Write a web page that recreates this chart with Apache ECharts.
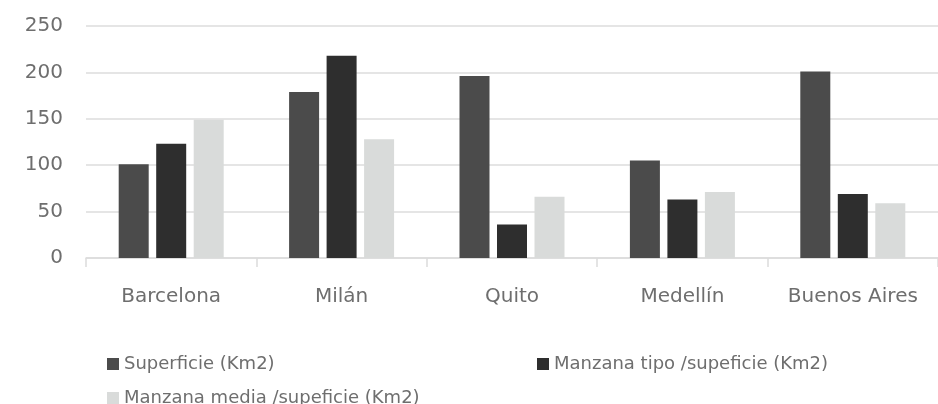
<!DOCTYPE html>
<html>
<head>
<meta charset="utf-8">
<script src="https://cdn.jsdelivr.net/npm/echarts@6/dist/echarts.min.js"></script>
<style>
  html, body { margin: 0; padding: 0; background: #ffffff; }
  #chart { width: 938px; height: 404px; }
</style>
</head>
<body>
<div id="chart"></div>
<script>
// Cities compared
const categories = ['Barcelona', 'Milán', 'Quito', 'Medellín', 'Buenos Aires'];

// Series names
const seriesNames = [
  'Superficie (Km2)',
  'Manzana tipo /supeficie (Km2)',
  'Manzana media /supeficie (Km2)'
];

// Values per city
const superficie = [101, 179, 196, 105, 201];
const manzanaTipo = [123, 218, 36, 63, 69];
const manzanaMedia = [149, 128, 66, 71, 59];

// Y axis ticks
const yTicks = [0, 50, 100, 150, 200, 250];

const FONT = 'DejaVu Sans';
const TEXT_COLOR = '#6e6e6e';
const colors = ['#4b4b4b', '#2e2e2e', '#d9dbda'];

const chart = echarts.init(document.getElementById('chart'), null, { renderer: 'canvas' });

function makeSeries(name, data, color) {
  return {
    name: name,
    type: 'bar',
    data: data,
    barWidth: 30,
    barGap: '25%',
    itemStyle: { color: color },
    animation: false
  };
}

const legendText = { fontFamily: FONT, fontSize: 18, color: TEXT_COLOR };

chart.setOption({
  backgroundColor: '#ffffff',
  animation: false,
  grid: { left: 86, right: 0, top: 26, bottom: 146, containLabel: false },
  xAxis: {
    type: 'category',
    data: categories,
    axisLine: { show: true, lineStyle: { color: '#dcdcdc', width: 1.5 } },
    axisTick: { show: true, length: 9, lineStyle: { color: '#dcdcdc', width: 1.5 } },
    axisLabel: { fontFamily: FONT, fontSize: 20, color: TEXT_COLOR, margin: 29 }
  },
  yAxis: {
    type: 'value',
    min: yTicks[0],
    max: yTicks[yTicks.length - 1],
    interval: 50,
    axisLine: { show: false },
    axisTick: { show: false },
    splitLine: { lineStyle: { color: '#dcdcdc', width: 1.5 } },
    axisLabel: { fontFamily: FONT, fontSize: 20, color: TEXT_COLOR, margin: 23 }
  },
  legend: [
    { data: [seriesNames[0]], left: 102, top: 350, itemWidth: 12, itemHeight: 12, icon: 'rect', textStyle: legendText, itemGap: 0 },
    { data: [seriesNames[1]], left: 532, top: 350, itemWidth: 12, itemHeight: 12, icon: 'rect', textStyle: legendText, itemGap: 0 },
    { data: [seriesNames[2]], left: 102, top: 384, itemWidth: 12, itemHeight: 12, icon: 'rect', textStyle: legendText, itemGap: 0 }
  ],
  series: [
    makeSeries(seriesNames[0], superficie, colors[0]),
    makeSeries(seriesNames[1], manzanaTipo, colors[1]),
    makeSeries(seriesNames[2], manzanaMedia, colors[2])
  ]
});
</script>
</body>
</html>
